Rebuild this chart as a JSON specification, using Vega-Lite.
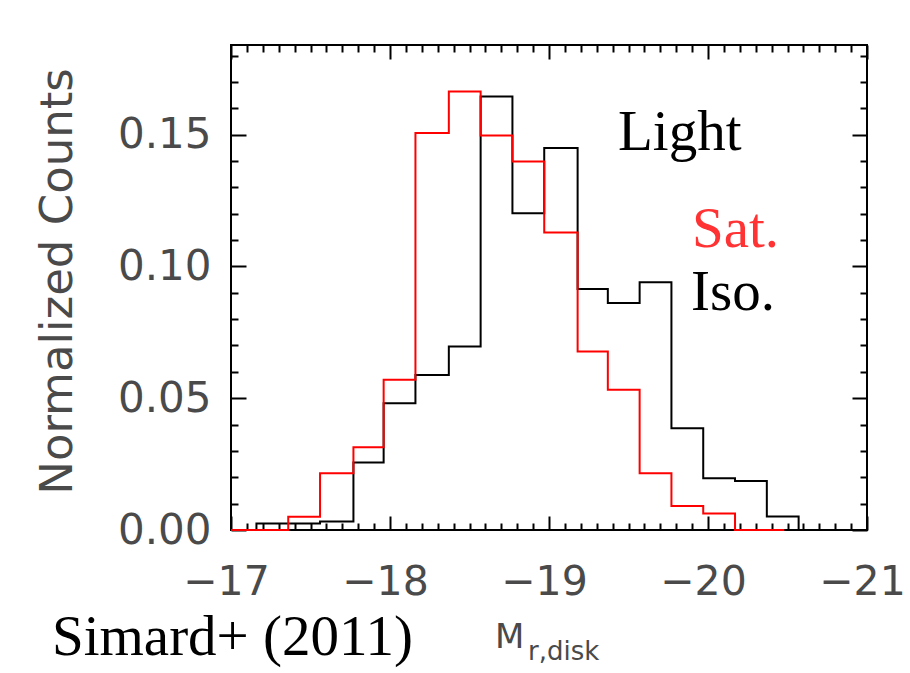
{
  "$schema": "https://vega.github.io/schema/vega-lite/v6.json",
  "width": 636,
  "height": 485,
  "autosize": "none",
  "padding": {"left": 231, "top": 45, "right": 43, "bottom": 143},
  "background": "white",
  "config": {
    "view": {"stroke": "black", "strokeWidth": 2},
    "axis": {
      "domain": false,
      "grid": false,
      "tickColor": "black",
      "tickWidth": 2,
      "labelFont": "DejaVu Sans",
      "labelFontSize": 42,
      "labelColor": "#4a4a4a",
      "labelOverlap": false,
      "labelFlush": false,
      "labelBound": false,
      "titleFont": "DejaVu Sans",
      "titleFontWeight": "normal",
      "titleColor": "#4a4a4a"
    },
    "text": {"font": "Liberation Serif", "fontSize": 57}
  },
  "datasets": {
    "iso": [
      {"m": -17.0, "frac": 0},
      {"m": -17.16, "frac": 0.0025},
      {"m": -17.36, "frac": 0.0025},
      {"m": -17.56, "frac": 0.0032},
      {"m": -17.77, "frac": 0.0256},
      {"m": -17.96, "frac": 0.0481},
      {"m": -18.16, "frac": 0.0588},
      {"m": -18.37, "frac": 0.0696},
      {"m": -18.57, "frac": 0.1645},
      {"m": -18.77, "frac": 0.1202},
      {"m": -18.97, "frac": 0.1449},
      {"m": -19.18, "frac": 0.0914},
      {"m": -19.37, "frac": 0.0861},
      {"m": -19.57, "frac": 0.0940},
      {"m": -19.77, "frac": 0.0386},
      {"m": -19.97, "frac": 0.0196},
      {"m": -20.17, "frac": 0.0186},
      {"m": -20.37, "frac": 0.0051},
      {"m": -20.57, "frac": 0}
    ],
    "sat": [
      {"m": -17.0, "frac": 0},
      {"m": -17.16, "frac": 0},
      {"m": -17.36, "frac": 0.0050},
      {"m": -17.56, "frac": 0.0215},
      {"m": -17.77, "frac": 0.0314},
      {"m": -17.96, "frac": 0.0570},
      {"m": -18.16, "frac": 0.1506},
      {"m": -18.37, "frac": 0.1664},
      {"m": -18.57, "frac": 0.1497},
      {"m": -18.77, "frac": 0.1398},
      {"m": -18.97, "frac": 0.1129},
      {"m": -19.18, "frac": 0.0677},
      {"m": -19.37, "frac": 0.0532},
      {"m": -19.57, "frac": 0.0215},
      {"m": -19.77, "frac": 0.0091},
      {"m": -19.97, "frac": 0.0063},
      {"m": -20.17, "frac": 0},
      {"m": -20.48, "frac": 0}
    ]
  },
  "layer": [
    {
      "data": {"name": "iso"},
      "mark": {"type": "line", "interpolate": "step-after", "color": "black", "strokeWidth": 2},
      "encoding": {
        "x": {
          "field": "m", "type": "quantitative",
          "scale": {"domain": [-17, -21], "nice": false, "zero": false},
          "axis": {
            "orient": "bottom",
            "tickCount": 40,
            "format": ".0f",
            "labelFontSize": 41,
            "labelOffset": -5,
            "tickSize": {"condition": {"test": "abs(datum.value - round(datum.value)) < 1e-6", "value": -14}, "value": -7},
            "labelExpr": "abs(datum.value - round(datum.value)) < 1e-6 ? datum.label : ''",
            "labelPadding": 46,
            "title": null
          }
        },
        "y": {
          "field": "frac", "type": "quantitative",
          "scale": {"domain": [0, 0.184], "nice": false},
          "axis": {
            "orient": "left",
            "tickCount": 19,
            "format": ".2f",
            "tickSize": {"condition": {"test": "abs(datum.value * 20 - round(datum.value * 20)) < 1e-6", "value": -15}, "value": -7},
            "labelExpr": "abs(datum.value * 20 - round(datum.value * 20)) < 1e-6 ? datum.label : ''",
            "labelPadding": 35,
            "title": "Normalized Counts",
            "titleFontSize": 45,
            "titleX": -174,
            "titleY": 236,
            "titleAngle": 270,
            "titleAlign": "center",
            "titleBaseline": "middle"
          }
        },
        "order": {"field": "m", "sort": "descending"}
      }
    },
    {
      "data": {"name": "sat"},
      "mark": {"type": "line", "interpolate": "step-after", "color": "#ff0000", "strokeWidth": 2},
      "encoding": {
        "x": {
          "field": "m", "type": "quantitative",
          "axis": {
            "orient": "top",
            "tickCount": 40,
            "tickSize": {"condition": {"test": "abs(datum.value - round(datum.value)) < 1e-6", "value": -14}, "value": -7},
            "labels": false,
            "title": null
          }
        },
        "y": {
          "field": "frac", "type": "quantitative",
          "axis": {
            "orient": "right",
            "tickCount": 19,
            "tickSize": {"condition": {"test": "abs(datum.value * 20 - round(datum.value * 20)) < 1e-6", "value": -15}, "value": -7},
            "labels": false,
            "title": null
          }
        },
        "order": {"field": "m", "sort": "descending"}
      }
    },
    {
      "data": {"values": [{"label": "Light"}]},
      "mark": {"type": "text", "align": "left", "baseline": "alphabetic", "color": "black"},
      "encoding": {
        "x": {"datum": -19.434, "type": "quantitative", "axis": null},
        "y": {"datum": 0.1443, "type": "quantitative", "axis": null},
        "text": {"field": "label"}
      }
    },
    {
      "data": {"values": [{"label": "Sat."}]},
      "mark": {"type": "text", "align": "left", "baseline": "alphabetic", "color": "#ff3333"},
      "encoding": {
        "x": {"datum": -19.899, "type": "quantitative", "axis": null},
        "y": {"datum": 0.1074, "type": "quantitative", "axis": null},
        "text": {"field": "label"}
      }
    },
    {
      "data": {"values": [{"label": "Iso."}]},
      "mark": {"type": "text", "align": "left", "baseline": "alphabetic", "color": "black"},
      "encoding": {
        "x": {"datum": -19.893, "type": "quantitative", "axis": null},
        "y": {"datum": 0.0835, "type": "quantitative", "axis": null},
        "text": {"field": "label"}
      }
    },
    {
      "data": {"values": [{"label": "Simard+ (2011)"}]},
      "mark": {"type": "text", "align": "left", "baseline": "alphabetic", "color": "black"},
      "encoding": {
        "x": {"datum": -15.874, "type": "quantitative", "axis": null},
        "y": {"datum": -0.0475, "type": "quantitative", "axis": null},
        "text": {"field": "label"}
      }
    },
    {
      "data": {"values": [{"label": "M"}]},
      "mark": {"type": "text", "align": "left", "baseline": "alphabetic", "color": "#4a4a4a", "font": "DejaVu Sans", "fontSize": 34},
      "encoding": {
        "x": {"datum": -18.66, "type": "quantitative", "axis": null},
        "y": {"datum": -0.0448, "type": "quantitative", "axis": null},
        "text": {"field": "label"}
      }
    },
    {
      "data": {"values": [{"label": "r,disk"}]},
      "mark": {"type": "text", "align": "left", "baseline": "alphabetic", "color": "#4a4a4a", "font": "DejaVu Sans", "fontSize": 26},
      "encoding": {
        "x": {"datum": -18.868, "type": "quantitative", "axis": null},
        "y": {"datum": -0.0494, "type": "quantitative", "axis": null},
        "text": {"field": "label"}
      }
    }
  ],
  "resolve": {"axis": {"x": "independent", "y": "independent"}}
}
